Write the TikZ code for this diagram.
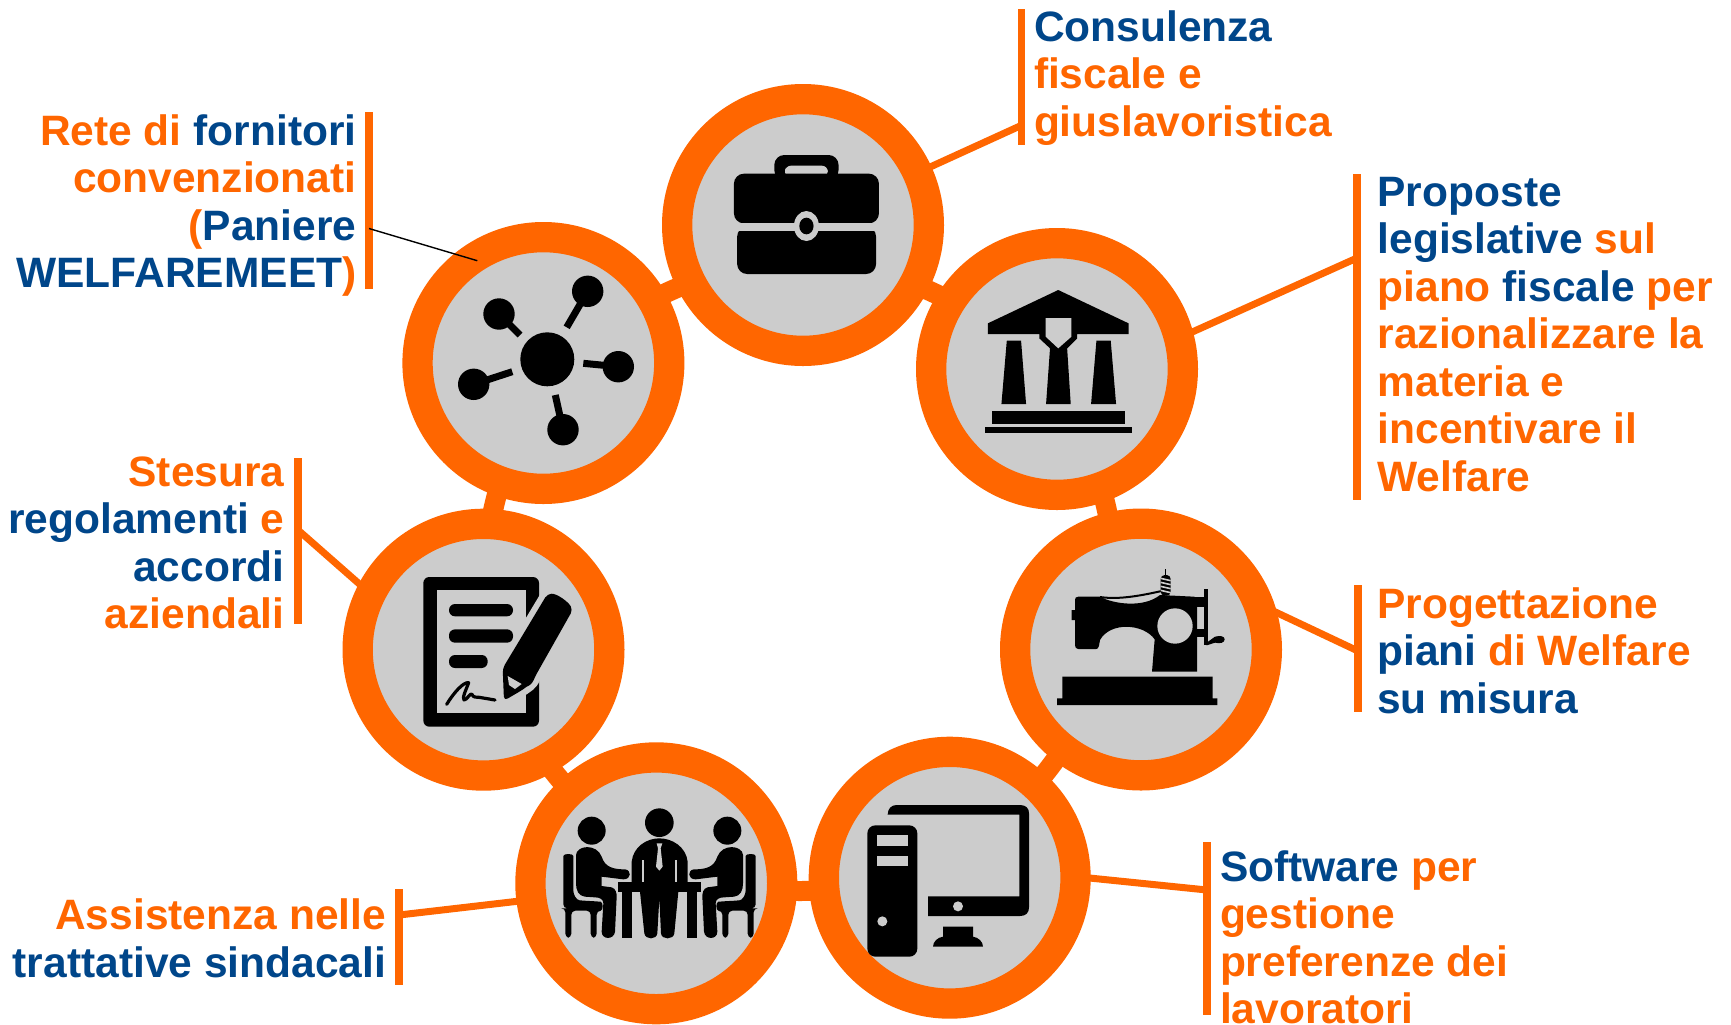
\documentclass[tikz,border=0pt]{standalone}
\usepackage{fontspec}
\setmainfont{Liberation Sans}
\definecolor{org}{HTML}{FF6600}
\definecolor{blu}{HTML}{00468A}
\definecolor{gry}{HTML}{CCCCCC}
\newcommand{\oo}[1]{\textcolor{org}{#1}}
\newcommand{\bb}[1]{\textcolor{blu}{#1}}
\tikzset{
  x=0.5pt,y=-0.5pt,
  disc/.style={circle,draw=org,fill=gry,line width=15.15pt,minimum size=125.85pt,inner sep=0pt},
  ringbase/.style={circle,draw=org,line width=10pt,minimum size=314pt,inner sep=0pt},
  barbox/.style={rectangle,fill=org,minimum width=3.75pt,inner sep=0pt},
  conn/.style={draw=org,line width=3.5pt},
  lbl/.style={font=\bfseries\fontsize{21.25}{23.75}\selectfont,inner sep=0pt,outer sep=0pt},
  lleft/.style={lbl,align=left,anchor=base west},
  lright/.style={lbl,align=right,anchor=base east},
  zoomthree/.style={x=0.16667pt,y=-0.16667pt},
  zoomone/.style={x=0.17857pt,y=-0.16667pt},
}
\begin{document}
\begin{tikzpicture}
\path[fill=white] (0,0) rectangle (1731,1024);
\useasboundingbox (0,0) rectangle (1731,1024);
% ring behind the discs
\node[ringbase] (ring) at (800,577) {};
% connector free ends
\coordinate (caseEnd) at (1020,126);
\coordinate (bankStart) at (1170,342);
\coordinate (bankEnd) at (1357,258);
\coordinate (sewStart) at (1250,600);
\coordinate (sewEnd) at (1358,651);
\coordinate (compStart) at (1070,876);
\coordinate (compEnd) at (1207,890);
\coordinate (meetStart) at (537,899);
\coordinate (meetEnd) at (399,915);
\coordinate (docStart) at (381,603);
\coordinate (docEnd) at (298,530);
\coordinate (netEnd) at (369,228.5);
\coordinate (netTip) at (477.3,260.7);
% bars
\node[barbox,minimum height=68pt] (barCase) at (1021.7,77) {};
\node[barbox,minimum height=163pt] (barBank) at (1357,337) {};
\node[barbox,minimum height=63.5pt] (barSew) at (1358,648.5) {};
\node[barbox,minimum height=86.5pt] (barComp) at (1207,928.5) {};
\node[barbox,minimum height=48pt] (barMeet) at (399,937) {};
\node[barbox,minimum height=83pt] (barDoc) at (298,541) {};
\node[barbox,minimum height=88.2pt] (barNet) at (369,200.5) {};
% discs
\coordinate (caseC) at (803,225);
\draw[conn] (caseC) -- (caseEnd);
\draw[conn] (bankStart) -- (bankEnd);
\draw[conn] (sewStart) -- (sewEnd);
\draw[conn] (compStart) -- (compEnd);
\draw[conn] (meetStart) -- (meetEnd);
\draw[conn] (docStart) -- (docEnd);
\node[disc] (case) at (803,225) {};
\node[disc] (bank) at (1057,369) {};
\node[disc] (net) at (543.4,363) {};
\node[disc] (sew) at (1141,649.5) {};
\node[disc] (doc) at (483.5,649.7) {};
\node[disc] (meet) at (656.3,883.3) {};
\node[disc] (comp) at (949.7,877.7) {};
\draw[black,line width=0.7pt] (netEnd) -- (netTip);
% ---------- briefcase
\begin{scope}[shift={(660,80)},zoomone]
\fill[black,rounded corners=5pt] (320,300) -- (320,225) -- (500,225) -- (500,300) -- cycle;
\fill[gry,rounded corners=3pt] (350,281) -- (350,257) -- (470,257) -- (470,290) -- (350,290) -- cycle;
\fill[gry] (340,281) rectangle (480,300);
\fill[black,rounded corners=5pt] (207,281) rectangle (613,430);
\fill[black,rounded corners=5pt] (216,440) rectangle (605,582);
\fill[gry] (207,430) rectangle (613,452);
\fill[gry] (410,438) ellipse [x radius=35,y radius=45];
\fill[black] (410,438) ellipse [x radius=20,y radius=25];
\end{scope}
% ---------- bank
\begin{scope}[shift={(660,80)},zoomone]
\fill[black] (1115,630) -- (1312,730) -- (1312,762) -- (1168,762) -- (1168,775) -- (1140,805) -- (1150,972) -- (1081,972) -- (1092,805) -- (1062,775) -- (1062,762) -- (918,762) -- (918,730) -- cycle;
\fill[gry] (1080,714) -- (1152,714) -- (1152,770) -- (1115,805) -- (1080,770) -- cycle;
\fill[black] (971,782) -- (1011,782) -- (1025,972) -- (956,972) -- cycle;
\fill[black] (1222,782) -- (1262,782) -- (1277,972) -- (1207,972) -- cycle;
\fill[black] (930,993) rectangle (1302,1031);
\fill[black] (910,1041) rectangle (1322,1059);
\end{scope}
% ---------- network
\begin{scope}
\fill[black] (547.3,359.3) circle [radius=27];
\foreach \p/\q in {{587.7,291.3}/{566.7,327.3},{499,314}/{520,335},{618.3,366.7}/{583.3,363.3},{473.7,384.3}/{512.3,371.7},{563,429.7}/{555.3,395}}{
  \fill[black] (\p) circle [radius=15.7];
  \draw[black,line width=3.5pt] (\p) -- (\q);
}
\end{scope}
% ---------- sewing machine
\begin{scope}[shift={(1020,530)},zoomthree]
\fill[black] (127,440) -- (578,440) -- (578,505) -- (592,505) -- (592,525) -- (111,525) -- (111,505) -- (127,505) -- cycle;
\fill[black] (175,200) -- (240,200) .. controls (280,222) and (370,235) .. (420,195) -- (522,200) .. controls (530,200) and (531,205) .. (531,210) -- (531,425) -- (396,425) -- (404,328) .. controls (370,280) and (270,275) .. (240,330) -- (237,347) .. controls (236,355) and (232,357) .. (228,357) -- (175,357) .. controls (168,357) and (165,352) .. (165,345) -- (165,270) -- (155,270) -- (155,240) -- (165,240) -- (165,210) .. controls (165,203) and (168,200) .. (175,200) -- cycle;
\fill[gry] (465,288) circle [radius=53];
\fill[black] (525,230) rectangle (551,200);
\fill[black] (525,298) rectangle (551,320);
\fill[black] (551,178) rectangle (563,346);
\fill[black] (560,338) -- (585,320) .. controls (600,316) and (614,318) .. (614,328) .. controls (614,338) and (600,342) .. (585,338) -- (560,346) -- cycle;
\draw[black,line width=1pt] (240,201) .. controls (300,210) and (370,195) .. (425,183);
\draw[black,line width=0.5pt] (437,117) -- (437,140);
\fill[black,rounded corners=2pt] (422,135) rectangle (452,197);
\foreach \yy in {145,157,169,181}{ \draw[gry,line width=0.8pt] (422,\yy) -- (452,\yy+7); }
\end{scope}
% ---------- document
\begin{scope}[shift={(360,530)},zoomthree]
\fill[black,rounded corners=3pt] (190,141) rectangle (537,590);
\fill[gry] (230,181) rectangle (497,550);
\fill[black,rounded corners=3pt] (267,222) rectangle (459,259);
\fill[black,rounded corners=3pt] (267,298) rectangle (459,338);
\fill[black,rounded corners=3pt] (267,375) rectangle (383,414);
\draw[black,line width=1.6pt,line cap=round,line join=round] (260,523) .. controls (280,490) and (310,455) .. (326,458) .. controls (320,475) and (305,505) .. (312,510) .. controls (320,510) and (330,490) .. (335,492) .. controls (340,505) and (350,500) .. (358,502) -- (405,510);
\path[draw=gry,fill=black,line width=6pt,line join=round] (562,192) .. controls (590,190) and (625,215) .. (638,240) -- (525,440) .. controls (515,465) and (500,470) .. (490,478) -- (432,512) -- (428,415) -- cycle;
\fill[black,rounded corners=2pt] (562,192) .. controls (590,190) and (625,215) .. (638,240) -- (525,440) .. controls (515,465) and (500,470) .. (490,478) -- (432,512) -- (428,415) -- cycle;
\fill[gry] (443,438) -- (485,462) -- (465,477) -- (447,465) -- cycle;
\end{scope}
% ---------- meeting
\begin{scope}[shift={(540,780)},zoomthree]
\fill[black] (358,128) circle [radius=43];
\fill[black] (155,152) circle [radius=42];
\fill[black] (562,152) circle [radius=42];
% table
\fill[black] (233,307) rectangle (483,335);
\fill[black] (247,335) rectangle (275,473);
\fill[black] (441,335) rectangle (470,473);
% centre man
\fill[black] (275,310) -- (275,245) .. controls (280,200) and (320,175) .. (358,175) .. controls (396,175) and (438,200) .. (443,245) -- (443,310) -- (415,335) -- (403,460) .. controls (400,480) and (365,480) .. (363,460) -- (358,355) -- (352,460) .. controls (350,480) and (316,480) .. (313,460) -- (300,335) -- cycle;
\fill[gry] (350,190) -- (367,190) -- (362,205) -- (368,260) -- (358,272) -- (348,260) -- (354,205) -- cycle;
\fill[gry] (307,240) rectangle (312,305);
\fill[gry] (405,240) rectangle (410,305);
% side figures
\foreach \sx/\ox in {1/0,-1/717}{
\begin{scope}[shift={(\ox*0.16667pt,0)},x=\sx*0.16667pt]
\fill[black,rounded corners=2pt] (70,360) -- (70,240) .. controls (70,220) and (100,220) .. (100,240) -- (100,320) .. controls (100,345) and (110,360) .. (130,362) -- (170,364) .. controls (190,366) and (190,392) .. (170,392) -- (170,473) -- (152,473) -- (152,392) -- (94,392) -- (94,473) -- (76,473) -- (76,385) -- (70,385) -- cycle;
\fill[black] (108,225) .. controls (110,195) and (170,190) .. (185,230) .. controls (195,262) and (220,268) .. (255,268) .. controls (275,270) and (275,298) .. (250,298) -- (185,290) -- (185,318) -- (215,322) .. controls (228,326) and (230,340) .. (230,350) -- (225,455) .. controls (222,480) and (185,480) .. (185,455) -- (190,370) .. controls (190,358) and (180,352) .. (165,352) -- (135,350) .. controls (115,348) and (108,330) .. (108,310) -- cycle;
\end{scope}
}
\end{scope}
% ---------- computer
\begin{scope}[shift={(840,780)},zoomthree]
\fill[black,rounded corners=4pt] (82,136) rectangle (232,530);
\fill[gry] (111,166) rectangle (203,197);
\fill[gry] (111,227) rectangle (203,258);
\fill[gry] (127,424) circle [radius=15];
\fill[black] (143,104) .. controls (143,85) and (155,75) .. (170,75) -- (540,75) .. controls (558,75) and (567,85) .. (567,100) -- (567,382) .. controls (567,398) and (558,408) .. (540,408) -- (264,408) -- (264,349) -- (538,349) -- (538,104) -- cycle;
\fill[gry] (354,379) circle [radius=15];
\fill[black] (309,440) -- (399,440) -- (399,470) .. controls (415,472) and (429,485) .. (429,500) -- (279,500) .. controls (279,485) and (293,472) .. (309,470) -- cycle;
\end{scope}
% ---------- labels (position = baseline of last line)
\node[lleft] (tCase) at (1034,136.2) {\bb{Consulenza}\\\oo{fiscale e}\\\oo{giuslavoristica}};
\node[lleft] (tBank) at (1377.6,491.3) {\bb{Proposte}\\\bb{legislative} \oo{sul}\\\oo{piano} \bb{fiscale} \oo{per}\\\oo{razionalizzare la}\\\oo{materia e}\\\oo{incentivare il}\\\oo{Welfare}};
\node[lleft] (tSew) at (1377.3,713.3) {\oo{Progettazione}\\\bb{piani} \oo{di Welfare}\\\bb{su misura}};
\node[lleft] (tComp) at (1220,1023.6) {\bb{Software} \oo{per}\\\oo{gestione}\\\oo{preferenze dei}\\\oo{lavoratori}};
\node[lright] (tMeet) at (386,977) {\oo{Assistenza nelle}\\\bb{trattative sindacali}};
\node[lright] (tDoc) at (284.5,628.6) {\oo{Stesura}\\\bb{regolamenti} \oo{e}\\\bb{accordi}\\\oo{aziendali}};
\node[lright] (tNet) at (356.5,287.5) {\oo{Rete di} \bb{fornitori}\\\oo{convenzionati}\\\oo{(}\bb{Paniere}\\\bb{WELFAREMEET}\oo{)}};
\end{tikzpicture}
\end{document}
